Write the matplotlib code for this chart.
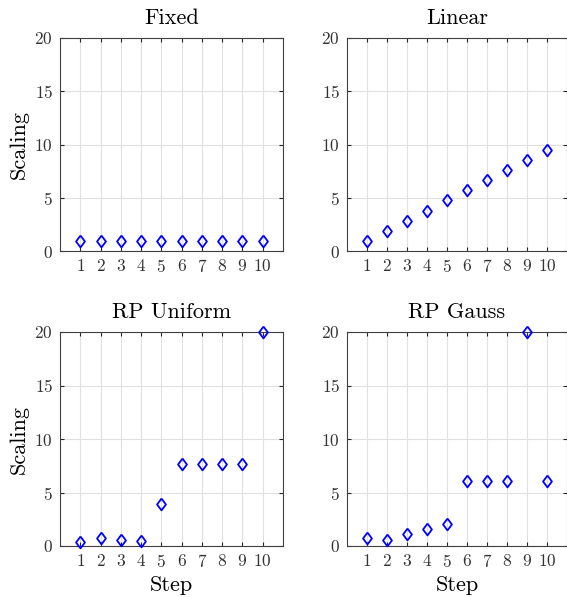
import numpy as np
import matplotlib
matplotlib.use("Agg")
import matplotlib.pyplot as plt

plt.rcParams['font.family'] = 'serif'
plt.rcParams['font.serif'] = ['cmr10']
plt.rcParams['mathtext.fontset'] = 'cm'
plt.rcParams['axes.formatter.use_mathtext'] = True

# data
steps = [1, 2, 3, 4, 5, 6, 7, 8, 9, 10]
titles = ['Fixed', 'Linear', 'RP Uniform', 'RP Gauss']
fixed = [0.95, 0.95, 0.95, 0.95, 0.95, 0.95, 0.95, 0.95, 0.95, 0.95]
linear = [0.9, 1.85, 2.8, 3.75, 4.75, 5.7, 6.65, 7.6, 8.55, 9.5]
rp_uniform = [0.4, 0.75, 0.56, 0.47, 3.96, 7.7, 7.7, 7.7, 7.7, 20.0]
rp_gauss = [0.72, 0.56, 1.09, 1.59, 2.09, 6.1, 6.1, 6.1, 20.0, 6.1]
series = [fixed, linear, rp_uniform, rp_gauss]

# matlab style diamond (a bit wider than mpl's 'd')
diamond = [(0, 1), (0.75, 0), (0, -1), (-0.75, 0), (0, 1)]

fig = plt.figure(figsize=(5.67, 5.97), dpi=100)
W, H = 567, 597
# axes boxes in pixels: left, top, right, bottom
boxes = [(60, 38, 283, 251), (347, 38, 567, 251),
         (60, 332, 283, 546), (347, 332, 567, 546)]

for i, (l, t, r, b) in enumerate(boxes):
    ax = fig.add_axes([l / W, 1 - b / H, (r - l) / W, (b - t) / H])
    ax.plot(steps, series[i], linestyle='none', marker=diamond, markersize=8.5,
            markerfacecolor='none', markeredgecolor='#0000ff', markeredgewidth=1.3,
            clip_on=False, zorder=5)
    ax.set_xlim(0, 11)
    ax.set_ylim(0, 20)
    ax.set_xticks(steps)
    ax.set_yticks([0, 5, 10, 15, 20])
    ax.grid(True, color='#e0e0e0', linewidth=0.8)
    ax.set_axisbelow(True)
    ax.tick_params(direction='in', length=3, color='#262626', labelcolor='#333333',
                   labelsize=12.5, top=True, right=True, labeltop=False,
                   labelright=False, pad=5)
    for s in ax.spines.values():
        s.set_color('#404040')
        s.set_linewidth(0.8)
    ax.set_title(titles[i], fontsize=16, pad=10)
    if i % 2 == 0:
        ax.set_ylabel('Scaling', fontsize=16, labelpad=4)
    if i >= 2:
        ax.set_xlabel('Step', fontsize=16, labelpad=4)

fig.savefig('out.png', dpi=100)
